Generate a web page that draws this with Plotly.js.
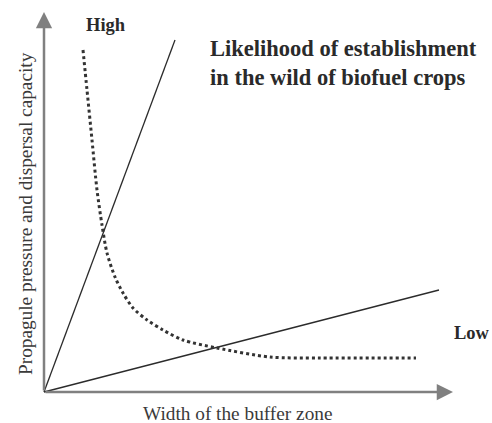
<!DOCTYPE html>
<html>
<head>
<meta charset="utf-8">
<script src="https://cdn.plot.ly/plotly-3.0.1.min.js"></script>
<style>html,body{margin:0;padding:0;background:#fff;}#chart{width:492px;height:423px;}</style>
</head>
<body>
<div id="chart"></div>
<script>
// Conceptual chart: origin at (0,0); units roughly pixels of the original figure
const steepX = [0, 131];
const steepY = [0, 352];
const shallowX = [0, 395];
const shallowY = [0, 102];
const curveX = [39, 43, 48, 53, 58, 63, 71, 79, 89, 103, 119, 139, 173, 226, 276, 372];
const curveY = [342, 302, 252, 202, 167, 139, 115, 99, 84, 72, 62, 52, 44, 35, 34, 34];
const xAxisEnd = 409;
const yAxisEnd = 380;
const labels = {
  title: "Likelihood of establishment<br>in the wild of biofuel crops",
  high: "High",
  low: "Low",
  xTitle: "Width of the buffer zone",
  yTitle: "Propagule pressure and dispersal capacity"
};

const serif = "Liberation Serif, Times New Roman, serif";
const txt = "#2a2a2a";
const axisCol = "#808080";

const traces = [
  {x: steepX, y: steepY, mode: "lines", line: {color: "#2b2b2b", width: 1.3}, hoverinfo: "skip"},
  {x: shallowX, y: shallowY, mode: "lines", line: {color: "#2b2b2b", width: 1.3}, hoverinfo: "skip"},
  {x: curveX, y: curveY, mode: "lines", line: {color: "#333", width: 3, dash: "3px,3px", shape: "spline", smoothing: 0.8}, hoverinfo: "skip"}
];

const layout = {
  width: 492, height: 423,
  margin: {l: 0, r: 0, t: 0, b: 0, pad: 0},
  paper_bgcolor: "#fff", plot_bgcolor: "#fff",
  showlegend: false,
  xaxis: {range: [-44, 448], visible: false, fixedrange: true},
  yaxis: {range: [-31, 392], visible: false, fixedrange: true},
  annotations: [
    {x: xAxisEnd, y: 0, ax: 0, ay: 0, axref: "x", ayref: "y", xref: "x", yref: "y", text: "", showarrow: true, arrowhead: 2, arrowsize: 1.3, arrowwidth: 2.5, arrowcolor: axisCol, standoff: 0},
    {x: 0, y: yAxisEnd, ax: 0, ay: 0, axref: "x", ayref: "y", xref: "x", yref: "y", text: "", showarrow: true, arrowhead: 2, arrowsize: 1.3, arrowwidth: 2.5, arrowcolor: axisCol, standoff: 0},
    {x: 164, y: 329.5, xref: "x", yref: "y", xanchor: "left", yanchor: "middle", align: "left", showarrow: false, text: "<b>" + labels.title.replace("<br>", "</b><br><b>") + "</b>", font: {family: serif, size: 22.5, color: txt}},
    {x: 62, y: 367, xref: "x", yref: "y", xanchor: "center", yanchor: "middle", showarrow: false, text: "<b>" + labels.high + "</b>", font: {family: serif, size: 18.5, color: txt}},
    {x: 428, y: 59, xref: "x", yref: "y", xanchor: "center", yanchor: "middle", showarrow: false, text: "<b>" + labels.low + "</b>", font: {family: serif, size: 18.5, color: txt}},
    {x: 193, y: -21, xref: "x", yref: "y", xanchor: "center", yanchor: "middle", showarrow: false, text: labels.xTitle, font: {family: serif, size: 19.3, color: "#3a3a3a"}},
    {x: -19, y: 178, xref: "x", yref: "y", xanchor: "center", yanchor: "middle", showarrow: false, textangle: -90, text: labels.yTitle, font: {family: serif, size: 19.3, color: "#3a3a3a"}}
  ]
};

Plotly.newPlot("chart", traces, layout, {displayModeBar: false, staticPlot: true});
</script>
</body>
</html>
